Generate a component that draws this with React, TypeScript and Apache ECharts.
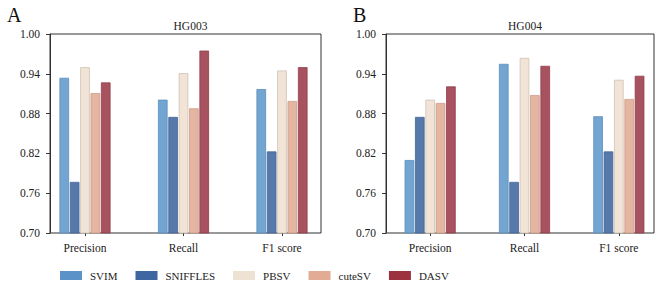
import React, { useEffect, useRef } from "react";
import * as echarts from "echarts";

// Metrics and tools
const metrics = ["Precision", "Recall", "F1 score"];
const tools = ["SVIM", "SNIFFLES", "PBSV", "cuteSV", "DASV"];

// HG003 scores per tool (Precision, Recall, F1 score)
const hg003SVIM = [0.934, 0.901, 0.917];
const hg003SNIFFLES = [0.777, 0.875, 0.823];
const hg003PBSV = [0.950, 0.941, 0.945];
const hg003CuteSV = [0.911, 0.888, 0.899];
const hg003DASV = [0.927, 0.975, 0.950];

// HG004 scores per tool (Precision, Recall, F1 score)
const hg004SVIM = [0.810, 0.955, 0.876];
const hg004SNIFFLES = [0.875, 0.777, 0.823];
const hg004PBSV = [0.901, 0.964, 0.931];
const hg004CuteSV = [0.896, 0.908, 0.902];
const hg004DASV = [0.921, 0.952, 0.937];

const yTicksMin = 0.7;
const yTicksMax = 1.0;
const yTickStep = 0.06;

const fillColors = ["#72a5d1", "#5779aa", "#f1e4d6", "#e4b5a0", "#a9525f"];
const edgeColors = ["#5b8ebc", "#43669b", "#cfc2b5", "#cb9c87", "#8f3e4b"];
const legendColors = ["#5b92c7", "#3e66a1", "#eee2d4", "#e1ac93", "#9c3240"];

const FONT = "'Liberation Serif', 'Times New Roman', serif";

export default function App() {
  const ref = useRef<HTMLDivElement>(null);

  useEffect(() => {
    if (!ref.current) return;
    const chart = echarts.init(ref.current, null, { renderer: "svg" });

    const panels = [
      { name: "HG003", data: [hg003SVIM, hg003SNIFFLES, hg003PBSV, hg003CuteSV, hg003DASV] },
      { name: "HG004", data: [hg004SVIM, hg004SNIFFLES, hg004PBSV, hg004CuteSV, hg004DASV] },
    ];

    // frame grids (box + y axis) and bar grids (categories) for each panel
    const frameGrids = [
      { left: 50, top: 34, width: 271, height: 199 },
      { left: 386, top: 34, width: 268, height: 199 },
    ];
    const barGrids = [
      { left: 35.75, top: 34, width: 295.5, height: 199 },
      { left: 383, top: 34, width: 294, height: 199 },
    ];

    const grid: any[] = [];
    const xAxis: any[] = [];
    const yAxis: any[] = [];
    const series: any[] = [];

    panels.forEach((p, pi) => {
      const fIdx = grid.length;
      grid.push({
        ...frameGrids[pi],
        show: true,
        borderColor: "#333",
        borderWidth: 1,
        backgroundColor: "transparent",
      });
      xAxis.push({ type: "value", gridIndex: fIdx, show: false, min: 0, max: 1 });
      yAxis.push({
        type: "value",
        gridIndex: fIdx,
        min: yTicksMin,
        max: yTicksMax,
        interval: yTickStep,
        axisLine: { show: true, lineStyle: { color: "#333", width: 1 } },
        axisTick: { show: true, length: 4, lineStyle: { color: "#333" } },
        splitLine: { show: false },
        axisLabel: {
          margin: 10,
          fontFamily: FONT,
          fontSize: 11.5,
          color: "#222",
          formatter: (v: number) => v.toFixed(2),
        },
      });

      const bIdx = grid.length;
      grid.push({ ...barGrids[pi] });
      xAxis.push({
        type: "category",
        gridIndex: bIdx,
        data: metrics,
        axisLine: { show: false },
        axisTick: { show: true, alignWithLabel: true, length: 3, lineStyle: { color: "#333" } },
        axisLabel: { margin: 9, fontFamily: FONT, fontSize: 11.5, color: "#222" },
      });
      yAxis.push({
        type: "value",
        gridIndex: bIdx,
        min: yTicksMin,
        max: yTicksMax,
        show: false,
        splitLine: { show: false },
      });

      tools.forEach((t, ti) => {
        series.push({
          type: "bar",
          name: t,
          xAxisIndex: bIdx,
          yAxisIndex: bIdx,
          data: p.data[ti],
          barWidth: 9.6,
          barGap: "8%",
          clip: true,
          itemStyle: {
            color: fillColors[ti],
            borderColor: edgeColors[ti],
            borderWidth: 0.8,
          },
        });
      });
    });

    chart.setOption({
      animation: false,
      backgroundColor: "#ffffff",
      grid,
      xAxis,
      yAxis,
      series,
      title: [
        { text: "A", left: 2, top: 0, textStyle: { fontFamily: FONT, fontSize: 20, fontWeight: "normal", color: "#111" } },
        { text: "B", left: 348, top: 0, textStyle: { fontFamily: FONT, fontSize: 20, fontWeight: "normal", color: "#111" } },
        { text: "HG003", left: 185.5, top: 15, textAlign: "center", textStyle: { fontFamily: FONT, fontSize: 11.5, fontWeight: "normal", color: "#222" } },
        { text: "HG004", left: 520, top: 15, textAlign: "center", textStyle: { fontFamily: FONT, fontSize: 11.5, fontWeight: "normal", color: "#222" } },
      ],
      legend: {
        left: 55,
        top: 265,
        padding: 5,
        itemWidth: 22,
        itemHeight: 9,
        itemGap: 18,
        icon: "rect",
        textStyle: { fontFamily: FONT, fontSize: 11, color: "#222", padding: [0, 0, 0, 3] },
        data: tools.map((t, i) => ({
          name: t,
          itemStyle: { color: legendColors[i], borderWidth: 0 },
        })),
      },
    });

    return () => chart.dispose();
  }, []);

  return (
    <div
      ref={ref}
      style={{ position: "fixed", left: 0, top: 0, width: 666, height: 286 }}
    />
  );
}
